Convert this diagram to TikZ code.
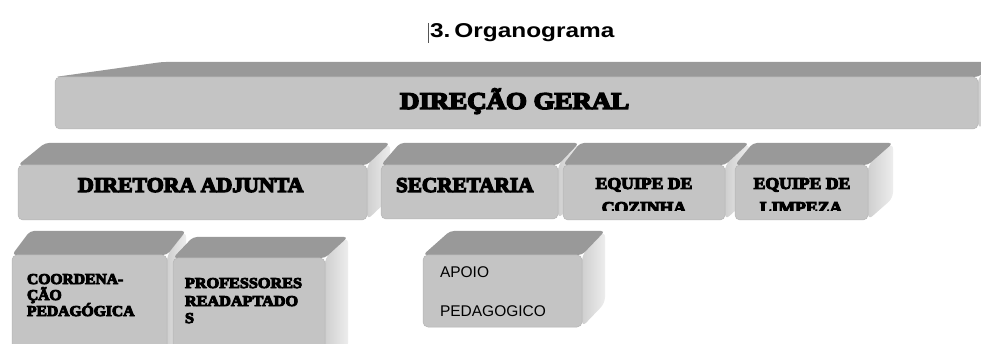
\documentclass[tikz,border=0pt]{standalone}
\usepackage{fontspec}
\setmainfont{Liberation Serif}
\newfontfamily\arial{Liberation Sans}
\newfontfamily\heavy{Liberation Serif}[FakeBold=6]
\definecolor{frontc}{HTML}{C4C4C4}
\definecolor{topc}{HTML}{999999}
\definecolor{sideA}{HTML}{CFCFCF}
\definecolor{sideB}{HTML}{EDEDED}
\definecolor{cursorc}{HTML}{555555}
\newcommand{\sx}[2]{\scalebox{#1}[1]{#2}}
\newcommand{\fs}[1]{\fontsize{#1}{#1}\selectfont}
\newcommand{\cubebox}[8]{%
  \pgfmathsetmacro\cbdd{#3-#8}%
  \shade[left color=sideA, right color=sideB, rounded corners=6pt]
    (#4,#3) -- (#7,#8) -- (#7,#5-\cbdd) -- (#4,#5) -- cycle;
  \fill[topc, rounded corners=4pt] (#2,#3) -- (#6,#8) -- (#7,#8) -- (#4,#3) -- cycle;
  \node[front, minimum width={(#4-#2)*1pt}, minimum height={(#5-#3)*1pt}] (#1) at (#2,#3) {};
}
\tikzset{
  front/.style={fill=frontc, draw=frontc!92!black, line width=0.5pt,
    rounded corners=5pt, inner sep=0pt, outer sep=0pt, anchor=north west},
  hv/.style={inner sep=0pt, outer sep=0pt, anchor=base west},
  hvc/.style={inner sep=0pt, outer sep=0pt, anchor=base},
}
\begin{document}
\begin{tikzpicture}[x=1pt, y=-1pt]
\clip (0,0) rectangle (981,344);
\fill[white] (0,0) rectangle (981,344);

% title
\draw[cursorc, line width=0.8pt] (428,23) -- (428,43);
\node[hv, font=\arial\bfseries\fs{20}] (title) at (430,38) {\sx{1.22}{3.\,Organograma}};

% boxes: name, x1, y1, x2, y2, back-left x, back-right x, back y
\cubebox{dg}{55}{77}{978}{129}{162}{1000}{62}
\cubebox{da}{18}{165}{367}{220}{45}{390}{143}
\cubebox{sec}{381}{165}{558}{219}{400}{579}{143}
\cubebox{coz}{563}{165}{725}{220}{580}{749}{143}
\cubebox{lim}{735}{165}{868}{220}{753}{893}{143}
\cubebox{coord}{12}{255}{167}{370}{30}{186}{231}
\cubebox{prof}{173}{258}{325}{370}{193}{348}{237}
\cubebox{apoio}{423}{255}{582}{327}{450}{605}{231}

% labels
\node[hv, font=\heavy\bfseries\fs{24}] (tdg) at (400,109) {\sx{1.12}{DIREÇÃO GERAL}};
\node[hv, font=\heavy\bfseries\fs{21}] (tda) at (78,192) {\sx{1.04}{DIRETORA ADJUNTA}};
\node[hv, font=\heavy\bfseries\fs{21}] (tsec) at (396,192) {\sx{1.01}{SECRETARIA}};
\begin{scope}
  \clip (560,160) rectangle (730,210.5);
  \node[hvc, font=\heavy\bfseries\fs{16.5}] (tcoz1) at (644,189) {\sx{1.07}{EQUIPE DE}};
  \node[hvc, font=\heavy\bfseries\fs{16.5}] (tcoz2) at (644,213) {\sx{1.07}{COZINHA}};
\end{scope}
\begin{scope}
  \clip (732,160) rectangle (870,211);
  \node[hvc, font=\heavy\bfseries\fs{16.5}] (tlim1) at (802,189) {\sx{1.07}{EQUIPE DE}};
  \node[hvc, font=\heavy\bfseries\fs{16.5}] (tlim2) at (801,213) {\sx{1.07}{LIMPEZA}};
\end{scope}
\node[hv, font=\heavy\bfseries\fs{15}] (tco1) at (27,284) {\sx{1.04}{COORDENA-}};
\node[hv, font=\heavy\bfseries\fs{15}] (tco2) at (27,300) {\sx{1.04}{ÇÃO}};
\node[hv, font=\heavy\bfseries\fs{15}] (tco3) at (27,316) {\sx{1.04}{PEDAGÓGICA}};
\node[hv, font=\heavy\bfseries\fs{15}] (tpr1) at (185,288) {\sx{1.08}{PROFESSORES}};
\node[hv, font=\heavy\bfseries\fs{15}] (tpr2) at (185,306) {\sx{1.08}{READAPTADO}};
\node[hv, font=\heavy\bfseries\fs{15}] (tpr3) at (185,323) {\sx{1.08}{S}};
\node[hv, font=\arial\fs{15.5}] (tap1) at (440,277) {APOIO};
\node[hv, font=\arial\fs{15.5}] (tap2) at (440,316) {PEDAGOGICO};
\end{tikzpicture}
\end{document}
